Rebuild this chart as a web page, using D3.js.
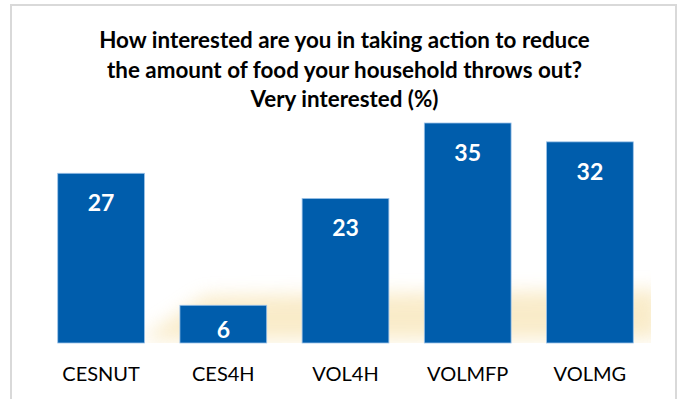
<!DOCTYPE html>
<html>
<head>
<meta charset="utf-8">
<script src="https://cdn.jsdelivr.net/npm/d3@7"></script>
<style>
  html, body { margin: 0; padding: 0; background: #fff; }
  svg { display: block; }
</style>
</head>
<body>
<svg id="chart" width="681" height="399"></svg>
<script>
// chart data
const categories = ["CESNUT", "CES4H", "VOL4H", "VOLMFP", "VOLMG"];
const values = [27, 6, 23, 35, 32];
const titleLines = [
  "How interested are you in taking action to reduce",
  "the amount of food your household throws out?",
  "Very interested (%)"
];

const plotBase = 343;   // bar baseline
const plotTop = 123;    // top of the tallest bar

const svg = d3.select("#chart");

// frame
svg.append("rect")
  .attr("x", 11).attr("y", 5)
  .attr("width", 665).attr("height", 420)
  .attr("fill", "#fff")
  .attr("stroke", "#d9d9d9")
  .attr("stroke-width", 2);

// soft yellow glow behind the bars
const defs = svg.append("defs");
defs.append("filter").attr("id", "blur")
  .attr("x", "-20%").attr("y", "-50%").attr("width", "140%").attr("height", "200%")
  .append("feGaussianBlur").attr("stdDeviation", 9);
defs.append("clipPath").attr("id", "glowclip")
  .append("rect").attr("x", 0).attr("y", 0).attr("width", 651).attr("height", plotBase);

svg.append("g").attr("clip-path", "url(#glowclip)")
  .append("path")
  .attr("d", "M140,340 L205,296 L660,290 L660,338 Z")
  .attr("fill", "#f6dfa6")
  .attr("opacity", 0.6)
  .attr("filter", "url(#blur)");

// scales
const x = d3.scaleBand()
  .domain(categories)
  .range([40, 651])
  .paddingInner(0.29)
  .paddingOuter(0.145);

const y = d3.scaleLinear()
  .domain([0, 35])
  .range([plotBase, plotTop]);

// bars
svg.selectAll(".bar")
  .data(values)
  .join("rect")
  .attr("class", "bar")
  .attr("x", (d, i) => x(categories[i]))
  .attr("y", d => y(d))
  .attr("width", x.bandwidth())
  .attr("height", d => plotBase - y(d))
  .attr("fill", "#005dac")
  .attr("stroke", "#9cc2e8")
  .attr("stroke-width", 0.8);

// value labels, inside the bar top (or near base for short bars)
svg.selectAll(".val")
  .data(values)
  .join("text")
  .attr("class", "val")
  .attr("x", (d, i) => x(categories[i]) + x.bandwidth() / 2)
  .attr("y", d => Math.min(y(d) + 38, plotBase - 5))
  .attr("text-anchor", "middle")
  .style("font-family", "Lato, 'Open Sans', sans-serif")
  .style("font-weight", "bold")
  .style("font-size", "23px")
  .attr("fill", "#fff")
  .text(d => d);

// category axis
const xAxis = svg.append("g")
  .attr("transform", `translate(0,${plotBase})`)
  .call(d3.axisBottom(x).tickSize(0).tickPadding(0));
xAxis.select(".domain").remove();
xAxis.selectAll("text")
  .attr("y", 38)
  .attr("dy", 0)
  .style("font-family", "Lato, 'Open Sans', sans-serif")
  .style("font-size", "20px")
  .attr("fill", "#000");

// title
svg.append("text")
  .attr("x", 344.5)
  .attr("y", 48)
  .attr("text-anchor", "middle")
  .style("font-family", "Lato, 'Open Sans', sans-serif")
  .style("font-weight", "bold")
  .style("font-size", "22.4px")
  .attr("fill", "#000")
  .selectAll("tspan")
  .data(titleLines)
  .join("tspan")
  .attr("x", 344.5)
  .attr("dy", (d, i) => i === 0 ? 0 : 29.5)
  .text(d => d);
</script>
</body>
</html>
